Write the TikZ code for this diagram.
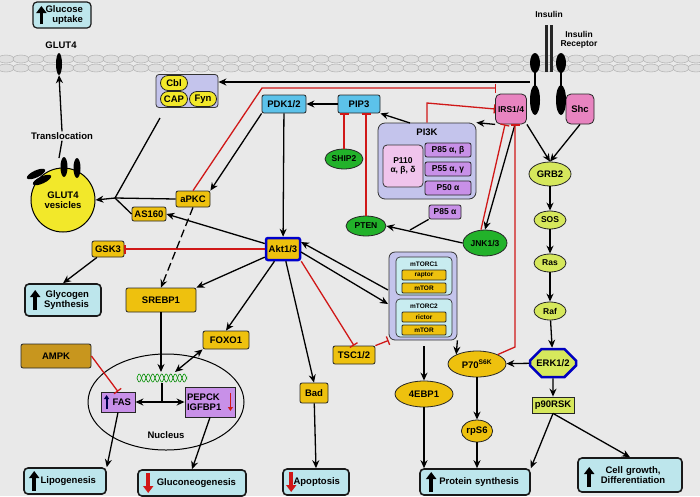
\documentclass[tikz,border=0pt]{standalone}
\usepackage{fontspec}
\setmainfont{Liberation Sans}
\usetikzlibrary{arrows.meta,shapes.geometric,shapes.misc,calc}
\definecolor{bg}{HTML}{E9E9E9}
\definecolor{gold}{HTML}{EEC10E}
\definecolor{yel}{HTML}{F2E82A}
\definecolor{dgold}{HTML}{C8961E}
\definecolor{sky}{HTML}{5CC2EA}
\definecolor{pinkk}{HTML}{E884C0}
\definecolor{lav}{HTML}{C4C4EC}
\definecolor{lpink}{HTML}{F0C4EC}
\definecolor{purp}{HTML}{C890E8}
\definecolor{grn}{HTML}{22B22A}
\definecolor{ygrn}{HTML}{D6E85C}
\definecolor{cyanb}{HTML}{BDE6EC}
\definecolor{lcy}{HTML}{C8ECF0}
\definecolor{rd}{HTML}{D01818}
\begin{document}
\begin{tikzpicture}[x=1pt,y=-1pt,
  every node/.style={font=\fontsize{9.5}{10.5}\selectfont\bfseries, align=center, inner sep=1pt},
  sm/.style={font=\fontsize{8.5}{9.5}\selectfont\bfseries},
  tiny/.style={font=\fontsize{6.5}{7}\selectfont\bfseries},
  box/.style={draw=black!85, rounded corners=2pt, line width=0.8pt, fill=gold},
  ell/.style={ellipse, draw=black!85, line width=0.8pt, inner sep=0.5pt},
  gell/.style={ell, fill=grn},
  yell/.style={ell, fill=ygrn},
  outc/.style={draw=black!90, fill=cyanb, rounded corners=4pt, line width=1.6pt},
  arr/.style={-{Stealth[length=8pt,width=7pt]}, line width=1.3pt},
  inh/.style={draw=rd, line width=1.3pt, -{Bar[width=9pt]}},
  bigup/.style={line width=4pt, -{Triangle[width=10pt,length=7pt]}},
  bigdn/.style={bigup, rd}]
\fill[bg] (0,0) rectangle (700,496);
\useasboundingbox (0,0) rectangle (700,496);
% membrane
\foreach \i in {0,...,47}{
  \draw[gray!70,fill=gray!25,line width=0.4pt] (\i*15+6,59) ellipse (8 and 4);
  \draw[gray!70,fill=gray!25,line width=0.4pt] (\i*15+6,68) ellipse (8 and 4);}
% glucose uptake
\node[outc, minimum width=58, minimum height=26, text width=42, align=right, line width=1.2pt] (glu) at (62,15) {Glucose\\uptake};
\draw[bigup, line width=3.5pt] ($(glu.west)+(9,9)$) -- ++(0,-18);
\node (glut4t) at (61,45) {GLUT4};
\node[ellipse, fill=black, minimum width=6, minimum height=22, inner sep=0] (glut4) at (59,64) {};
\node (transl) at (62,136) {Translocation};
% vesicle
\node[circle, draw=black, line width=1pt, fill=yel, minimum size=64] (ves) at (63,200) {GLUT4\\vesicles};
\foreach \x/\y/\a in {64/167/90,77/168/90,42/180/25,36/174/25}
  \fill[black, rotate around={\a:(\x,\y)}] (\x,\y) ellipse (10 and 3.5);
\draw[arr] (transl.north) -- (glut4.south);
\draw[line width=1.3pt] (59,158) -- (transl.south);
% Cbl box
\node[draw=black!80, fill=lav, rounded corners=3pt, line width=0.8pt, minimum width=62, minimum height=33] (cblbox) at (187,91) {};
\node[ell, rounded rectangle, fill=yel, minimum width=28, minimum height=15] (cbl) at (174,83) {Cbl};
\node[ell, rounded rectangle, fill=yel, minimum width=28, minimum height=15] (cap) at (174,99) {CAP};
\node[ell, rounded rectangle, fill=yel, minimum width=28, minimum height=15] (fyn) at (203,99) {Fyn};
% top row
\node[box, fill=sky, minimum width=44, minimum height=18] (pdk) at (284,104) {PDK1/2};
\node[box, fill=sky, minimum width=42, minimum height=18] (pip3) at (359,104) {PIP3};
\node[box, fill=pinkk, rounded corners=5pt, minimum width=31, minimum height=30, sm] (irs) at (511,109) {IRS1/4};
\node[box, fill=pinkk, rounded corners=5pt, minimum width=28, minimum height=30] (shc) at (580,109) {Shc};
% insulin receptor
\fill[black!85] (545,25) rectangle (548,72); \fill[black!85] (550,25) rectangle (553,72);
\fill[black] (535,63) ellipse (5 and 10); \fill[black] (561,63) ellipse (5 and 10);
\fill[black] (535,100) ellipse (5 and 15); \fill[black] (561,100) ellipse (5 and 15);
\draw[line width=2pt] (535,70) -- (535,88); \draw[line width=2pt] (561,70) -- (561,88);
\node[sm] (ins) at (549,14) {Insulin};
\node[sm] (insr) at (579,40) {Insulin\\Receptor};
\coordinate (rcp) at (530,82);
% PI3K
\node[draw=black!80, fill=lav, rounded corners=7pt, line width=0.8pt, minimum width=98, minimum height=76] (pi3k) at (427,161) {};
\node at (427,132) {PI3K};
\node[draw=black!80, fill=lpink, rounded corners=4pt, line width=0.8pt, minimum width=40, minimum height=42, sm] (p110) at (403,166) {P110\\α, β, δ};
\node[box, fill=purp, minimum width=46, minimum height=14, sm] (p85ab) at (448,150) {P85 α, β};
\node[box, fill=purp, minimum width=46, minimum height=14, sm] (p55) at (448,169) {P55 α, γ};
\node[box, fill=purp, minimum width=46, minimum height=14, sm] (p50) at (448,188) {P50 α};
\node[gell, minimum width=38, minimum height=20, sm] (ship2) at (344,159) {SHIP2};
\node[gell, minimum width=40, minimum height=20, sm] (pten) at (366,226) {PTEN};
\node[box, fill=purp, minimum width=32, minimum height=14, sm] (p85a) at (445,212) {P85 α};
\node[gell, minimum width=44, minimum height=26, sm] (jnk) at (485,243) {JNK1/3};
% MAPK chain
\node[yell, minimum width=42, minimum height=24] (grb2) at (550,174) {GRB2};
\node[yell, minimum width=32, minimum height=18, sm] (sos) at (550,220) {SOS};
\node[yell, minimum width=32, minimum height=18, sm] (ras) at (550,263) {Ras};
\node[yell, minimum width=32, minimum height=18, sm] (raf) at (550,311) {Raf};
\node[chamfered rectangle, chamfered rectangle xsep=7pt, chamfered rectangle ysep=7pt, draw=blue!75!black, line width=2.5pt, fill=ygrn, minimum width=46, minimum height=28] (erk) at (553,363) {ERK1/2};
\node[draw=black!85, line width=0.8pt, fill=ygrn, minimum width=42, minimum height=16] (p90) at (553,405) {p90RSK};
% left side
\node[box, minimum width=34, minimum height=16] (apkc) at (193,199) {aPKC};
\node[box, minimum width=34, minimum height=14] (as160) at (149,214) {AS160};
\node[box, minimum width=32, minimum height=16] (gsk3) at (108,249) {GSK3};
\node[box, draw=blue!80!black, line width=2.5pt, minimum width=34, minimum height=22] (akt) at (283,249) {Akt1/3};
\node[outc, minimum width=76, minimum height=32, text width=52, align=right] (glyc) at (63,300) {Glycogen\\Synthesis};
\draw[bigup] ($(glyc.west)+(11,10)$) -- ++(0,-20);
\node[box, minimum width=70, minimum height=24] (srebp) at (161,300) {SREBP1};
\node[box, minimum width=46, minimum height=18] (foxo) at (226,340) {FOXO1};
\node[box, fill=dgold, minimum width=70, minimum height=24] (ampk) at (56,356) {AMPK};
% nucleus
\draw[line width=1pt] (166,402) ellipse (78 and 48);
\node (nuc) at (166,435) {Nucleus};
\draw[green!50!black, line width=0.6pt] plot[domain=0:50, samples=80] ({137+\x},{378+4*sin(\x*40)});
\draw[green!60!black, line width=0.6pt] plot[domain=0:50, samples=80] ({137+\x},{378-4*sin(\x*40)});
\coordinate (dna) at (162,383);
\node[draw=black!85, line width=0.8pt, fill=purp, minimum width=34, minimum height=20, text width=26, align=right] (fas) at (118,402) {FAS};
\draw[line width=2pt, -{Triangle[width=5pt,length=4pt]}, black!70!blue] ($(fas.west)+(6,7)$) -- ++(0,-14);
\node[draw=black!85, line width=0.8pt, fill=purp, minimum width=50, minimum height=30, text width=46, align=left] (pepck) at (210,402) {PEPCK\\IGFBP1};
\draw[line width=1.5pt, rd, -{Triangle[width=5pt,length=4pt]}] ($(pepck.east)+(-5,-9)$) -- ++(0,18);
% middle
\node[box, minimum width=28, minimum height=20] (bad) at (314,393) {Bad};
\node[box, minimum width=42, minimum height=18] (tsc) at (354,355) {TSC1/2};
\node[draw=black!80, fill=lav, rounded corners=6pt, line width=0.8pt, minimum width=68, minimum height=88] (mtorc) at (423,296) {};
\node[draw=black!80, fill=lcy, rounded corners=4pt, line width=0.7pt, minimum width=56, minimum height=38] (mc1) at (424,276) {};
\node[draw=black!80, fill=lcy, rounded corners=4pt, line width=0.7pt, minimum width=56, minimum height=38] (mc2) at (424,318) {};
\node[tiny] at (424,264) {mTORC1};
\node[box, tiny, minimum width=44, minimum height=10, rounded corners=1pt] at (424,275) {raptor};
\node[box, tiny, minimum width=44, minimum height=10, rounded corners=1pt] at (424,288) {mTOR};
\node[tiny] at (424,306) {mTORC2};
\node[box, tiny, minimum width=44, minimum height=10, rounded corners=1pt] at (424,317) {rictor};
\node[box, tiny, minimum width=44, minimum height=10, rounded corners=1pt] at (424,330) {mTOR};
\node[ell, fill=gold, minimum width=58, minimum height=26] (p70) at (477,364) {P70\textsuperscript{S6K}};
\node[ell, fill=gold, minimum width=58, minimum height=26] (ebp) at (424,394) {4EBP1};
\node[ell, fill=gold, minimum width=28, minimum height=22] (rps6) at (477,431) {rpS6};
% outcomes
\node[outc, minimum width=82, minimum height=26, text width=62, align=right] (lip) at (65,481) {Lipogenesis};
\draw[bigup] ($(lip.west)+(11,10)$) -- ++(0,-20);
\node[outc, minimum width=108, minimum height=26, text width=88, align=right] (glc) at (192,483) {Gluconeogenesis};
\draw[bigdn] ($(glc.west)+(11,-10)$) -- ++(0,20);
\node[outc, minimum width=66, minimum height=26, text width=48, align=right] (apo) at (316,482) {Apoptosis};
\draw[bigdn] ($(apo.west)+(9,-10)$) -- ++(0,20);
\node[outc, minimum width=110, minimum height=26, text width=88, align=right] (prot) at (475,482) {Protein synthesis};
\draw[bigup] ($(prot.west)+(12,10)$) -- ++(0,-20);
\node[outc, minimum width=104, minimum height=34, text width=82, align=center] (cell) at (630,475) {\hspace*{6pt}Cell growth,\\\hspace*{6pt}Differentiation};
\draw[bigup] ($(cell.west)+(12,12)$) -- ++(0,-20);
% ---- connectors
\coordinate (mA) at (388,290);
\coordinate (mB) at (388,304);
\coordinate (aA) at (301,242);
\coordinate (aB) at (301,252);
\coordinate (m4) at (424,346);
\draw[arr] (rcp) -- (cblbox.east |- rcp);
\draw[inh] (apkc.north) -- (262,88) -- (496,88);
\draw[inh] (pi3k.north) -- (427,103) -- (irs.west);
\draw[arr] (pdk.south west) -- (apkc.north east);
\draw[arr] (pip3) -- (pdk);
\draw[arr] (410,123) -- (pip3.south east);
\draw[arr] (irs.south west) -- (pi3k.north east);
\draw[inh] (ship2.north) -- (ship2.north |- pip3.south);
\draw[inh] (pten.north) -- (pten.north |- pip3.south);
\coordinate (jp) at (410,230);
\draw[line width=1.3pt] (p85a.south west) -- (jp);
\draw[arr] (jnk.west) -- (pten.east);
\draw[arr] ([xshift=4pt]irs.south) -- (jnk.north);
\draw[inh] ([xshift=-4pt]jnk.north) -- ([xshift=-6pt]irs.south);
\draw[inh] (p70.north east) -- (515,347) -- ([xshift=4pt]irs.south);
\draw[arr] (irs.south east) -- (grb2.north);
\draw[arr] (shc.south) -- (grb2.north);
\draw[arr] (grb2) -- (sos);
\draw[arr] (sos) -- (ras);
\draw[arr] (ras) -- (raf);
\draw[arr] (raf) -- (erk);
\draw[arr] (erk) -- (p90);
\draw[arr] (erk) -- (p70);
\draw[arr] (p90.south) -- (prot.north east);
\draw[arr] (p90.south) -- (cell.north);
\draw[arr] (pdk) -- (akt);
\draw[inh] (akt.west) -- (gsk3.east);
\draw[arr] (gsk3) -- (glyc.north);
\draw[arr] (akt) -- (as160.east);
\coordinate (jv) at (115,198);
\draw[line width=1.3pt] (apkc.west) -- (jv) -- (160,118);
\draw[line width=1.3pt] (as160.west) -- (jv);
\draw[arr] (jv) -- (ves.east);
\draw[arr, dash pattern=on 8pt off 4pt] (apkc.south) -- (srebp.north);
\draw[arr] (akt) -- (srebp.north east);
\draw[arr] (akt) -- (foxo.north);
\draw[arr] (akt) -- (bad.north);
\draw[inh] (akt.south east) -- (tsc.north);
\draw[arr] (mA) -- (aA);
\draw[arr] (aB) -- (mB);
\draw[inh] (tsc.north east) -- (mtorc.south west);
\draw[arr] (mtorc.south east) -- (p70.north west);
\draw[arr] (m4) -- (ebp.north);
\draw[arr] (p70) -- (rps6);
\draw[arr] (rps6) -- (prot.north -| rps6);
\draw[arr] (ebp) -- (prot.north -| ebp);
\draw[arr] (srebp) -- (161,372);
\draw[{Stealth[length=8pt,width=7pt]}-{Stealth[length=8pt,width=7pt]}, line width=1.3pt] (175,372) -- (foxo.south west);
\draw[line width=2pt] (dna) -- (162,402);
\draw[-{Stealth[length=8pt,width=7pt]}, line width=2pt] (162,402) -- (fas.east);
\draw[-{Stealth[length=8pt,width=7pt]}, line width=2pt] (162,402) -- (pepck.west);
\draw[inh] (ampk.east) -- (fas.north);
\draw[arr] (fas.south) -- (lip.north east);
\draw[arr] (pepck.south) -- (glc.north);
\draw[arr] (bad) -- (apo.north);
\end{tikzpicture}
\end{document}
